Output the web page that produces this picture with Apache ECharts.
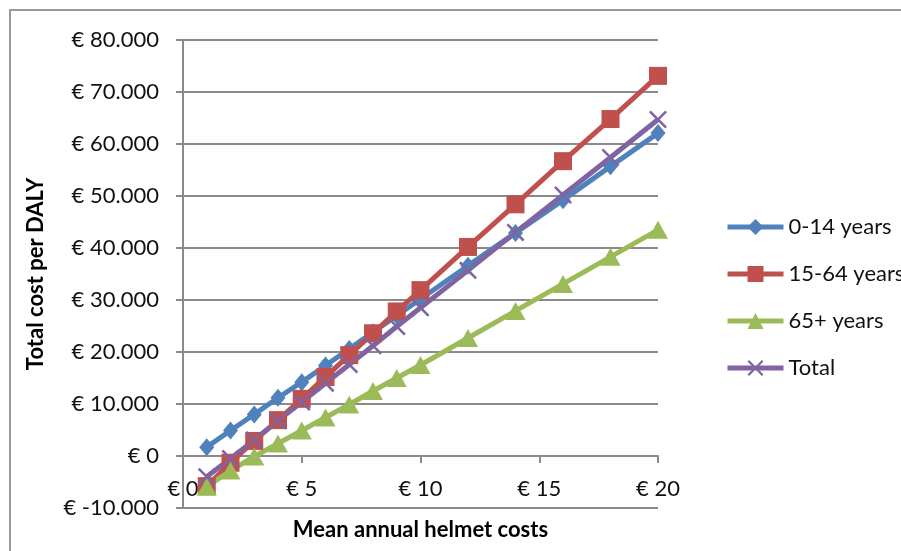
<!DOCTYPE html>
<html>
<head>
<meta charset="utf-8">
<script src="https://cdn.jsdelivr.net/npm/echarts@6/dist/echarts.min.js"></script>
<style>
html,body{margin:0;padding:0;background:#fff;}
#chart{width:901px;height:551px;}
</style>
</head>
<body>
<div id="chart"></div>
<script>
// ---- data ----
const helmetCosts = [1, 2, 3, 4, 5, 6, 7, 8, 9, 10, 12, 14, 16, 18, 20];
const seriesNames = ['0-14 years', '15-64 years', '65+ years', 'Total'];
const age0to14 = [1700, 4900, 8000, 11200, 14200, 17400, 20600, 23800, 27000, 30200, 36600, 42900, 49200, 55700, 62100];
const age15to64 = [-5800, -1300, 2900, 6900, 11000, 15200, 19400, 23600, 27800, 31900, 40200, 48400, 56700, 64800, 73100];
const age65plus = [-5900, -2800, -100, 2400, 4900, 7400, 9900, 12500, 15000, 17500, 22700, 27900, 33100, 38300, 43500];
const total = [-4000, -500, 3100, 6800, 10400, 14000, 17600, 21200, 24900, 28500, 35700, 43000, 50200, 57400, 64700];
const xTickLabels = ['€ 0', '€ 5', '€ 10', '€ 15', '€ 20'];
const yTickLabels = ['€ -10.000', '€ 0', '€ 10.000', '€ 20.000', '€ 30.000', '€ 40.000', '€ 50.000', '€ 60.000', '€ 70.000', '€ 80.000'];
const xMin = 0, xMax = 20, xStep = 5;
const yMin = -10000, yMax = 80000, yStep = 10000;

// ---- chart ----
const FONT = 'Lato';
const gridColor = '#8a8a8a';
const colors = ['#4f81bd', '#c0504d', '#9bbb59', '#8064a2'];
const xMark = 'path://M1,0 L5,4 L9,0 L10,1 L6,5 L10,9 L9,10 L5,6 L1,10 L0,9 L4,5 L0,1 Z';
const symbols = ['diamond', 'rect', 'triangle', xMark];
const symbolSizes = [[15, 18], 18, [20, 18], 18];
const allValues = [age0to14, age15to64, age65plus, total];

const gridTop = 40, gridBottom = 43, chartH = 551;
// x axis crosses the y axis at value 0: shift it up from the bottom edge by the pixel height of (0 - yMin)
const plotH = chartH - gridTop - gridBottom;
const zeroOffset = -plotH * (0 - yMin) / (yMax - yMin);

const chart = echarts.init(document.getElementById('chart'), null, {renderer: 'canvas'});
chart.setOption({
  animation: false,
  backgroundColor: '#fff',
  textStyle: {fontFamily: FONT},
  graphic: [{
    type: 'rect',
    shape: {x: 10, y: 10, width: 1000, height: 1000},
    style: {fill: 'none', stroke: '#999', lineWidth: 2},
    silent: true
  }],
  grid: {left: 183, right: 243, top: gridTop, bottom: gridBottom, containLabel: false, outerBoundsMode: 'none'},
  legend: {
    orient: 'vertical',
    left: 720,
    top: 209,
    itemWidth: 56,
    itemHeight: 20,
    itemGap: 21,
    data: seriesNames,
    lineStyle: {width: 5},
    textStyle: {fontFamily: FONT, fontSize: 22, color: '#111', lineHeight: 26}
  },
  xAxis: {
    type: 'value',
    position: 'bottom',
    offset: zeroOffset,
    min: xMin, max: xMax, interval: xStep,
    name: 'Mean annual helmet costs',
    nameLocation: 'middle',
    nameGap: 63,
    nameTextStyle: {fontFamily: FONT, fontSize: 22, fontWeight: 'bold', color: '#000'},
    axisLine: {show: true, onZero: false, lineStyle: {color: gridColor, width: 2}},
    axisTick: {show: true, length: 7, lineStyle: {color: gridColor, width: 2}},
    splitLine: {show: false},
    axisLabel: {
      margin: 22, fontFamily: FONT, fontSize: 22, color: '#111',
      formatter: v => xTickLabels[Math.round((v - xMin) / xStep)]
    }
  },
  yAxis: {
    type: 'value',
    min: yMin, max: yMax, interval: yStep,
    name: 'Total cost per DALY',
    nameLocation: 'middle',
    nameGap: 136,
    nameTextStyle: {fontFamily: FONT, fontSize: 22, fontWeight: 'bold', color: '#000'},
    axisLine: {show: true, onZero: false, lineStyle: {color: gridColor, width: 2}},
    axisTick: {show: true, length: 7, lineStyle: {color: gridColor, width: 2}},
    splitLine: {show: true, lineStyle: {color: gridColor, width: 2}},
    axisLabel: {
      margin: 24, fontFamily: FONT, fontSize: 22, color: '#111',
      formatter: v => yTickLabels[Math.round((v - yMin) / yStep)]
    }
  },
  series: seriesNames.map((name, i) => ({
    name: name,
    type: 'line',
    data: helmetCosts.map((x, j) => [x, allValues[i][j]]),
    symbol: symbols[i],
    symbolSize: symbolSizes[i],
    showSymbol: true,
    lineStyle: {color: colors[i], width: 5},
    itemStyle: {color: colors[i], borderWidth: 0, opacity: 1}
  }))
});
</script>
</body>
</html>
